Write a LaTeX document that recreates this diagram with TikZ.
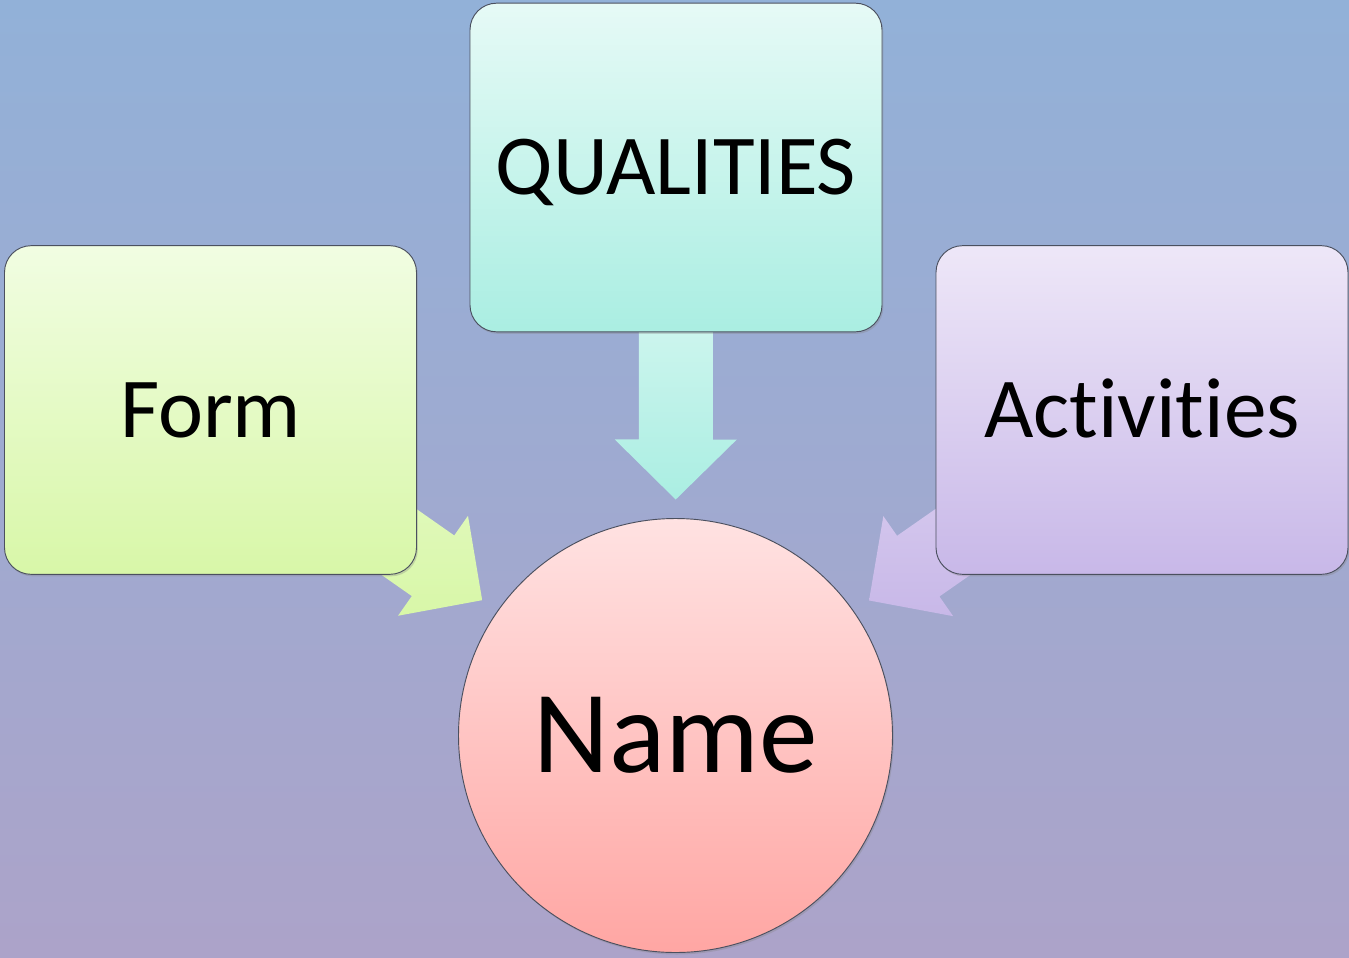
\documentclass[tikz,border=0pt]{standalone}
\usepackage{fontspec}
\setmainfont{Carlito}[Ligatures=NoCommon]
\usepackage{xcolor}
\usetikzlibrary{calc,shadows}

\definecolor{bgtop}{RGB}{146,177,216}
\definecolor{bgbot}{RGB}{172,163,201}
\definecolor{boxline}{RGB}{75,80,95}
\definecolor{formtop}{RGB}{241,253,226}
\definecolor{formbot}{RGB}{216,247,168}
\definecolor{qualtop}{RGB}{230,250,246}
\definecolor{qualbot}{RGB}{170,238,226}
\definecolor{acttop}{RGB}{238,231,248}
\definecolor{actbot}{RGB}{200,184,232}
\definecolor{nametop}{RGB}{255,226,226}
\definecolor{namebot}{RGB}{255,166,163}

\pgfdeclarelayer{background}
\pgfsetlayers{background,main}

\tikzset{
  box/.style={draw=boxline, line width=0.7pt, rounded corners=20pt,
    minimum width=309pt, minimum height=246.5pt, inner sep=0pt,
    drop shadow={opacity=0.3, shadow xshift=1pt, shadow yshift=-1.5pt},
    font=\fontsize{64}{70}\selectfont, text height=40.5pt, text depth=0pt},
  hub/.style={circle, draw=boxline, line width=0.7pt, minimum size=325.5pt,
    inner sep=0pt, top color=nametop, bottom color=namebot,
    drop shadow={opacity=0.3, shadow xshift=1pt, shadow yshift=-1.5pt},
    font=\fontsize{88}{96}\selectfont, text height=55.5pt, text depth=0pt},
}

\newcommand{\blockarrow}[3]{%
  \path ($(#2.center)!177pt!(#1.center)$) coordinate (#1tip)
        ($(#2.center)!222pt!(#1.center)$) coordinate (#1neck)
        ($(#2.center)!312pt!(#1.center)$) coordinate (#1tail);
  \path[#3] (#1tip)
    -- ($(#1neck)!45.75pt!90:(#1tip)$) -- ($(#1neck)!27.75pt!90:(#1tip)$)
    -- ($(#1tail)!27.75pt!90:(#1tip)$) -- ($(#1tail)!27.75pt!-90:(#1tip)$)
    -- ($(#1neck)!27.75pt!-90:(#1tip)$) -- ($(#1neck)!45.75pt!-90:(#1tip)$)
    -- cycle;
}

\begin{document}
\begin{tikzpicture}[x=0.75pt,y=0.75pt,yscale=-1,xscale=1]

\useasboundingbox (0,0) rectangle (1349,957);

\node[box, top color=formtop, bottom color=formbot] (form) at (210.5,410) {Form};
\node[box, top color=qualtop, bottom color=qualbot] (qual) at (676,167.5) {QUALITIES};
\node[box, top color=acttop, bottom color=actbot] (act) at (1142,410) {Activities};
\node[hub] (name) at (675.5,735.5) {Name};

\begin{pgfonlayer}{background}
\shade[top color=bgtop, bottom color=bgbot] (0,0) rectangle (1349,957);
\blockarrow{form}{name}{top color=formtop!40!formbot, bottom color=formbot}
\blockarrow{qual}{name}{top color=qualtop!60!qualbot, bottom color=qualbot}
\blockarrow{act}{name}{top color=acttop!40!actbot, bottom color=actbot}
\end{pgfonlayer}

\end{tikzpicture}
\end{document}
